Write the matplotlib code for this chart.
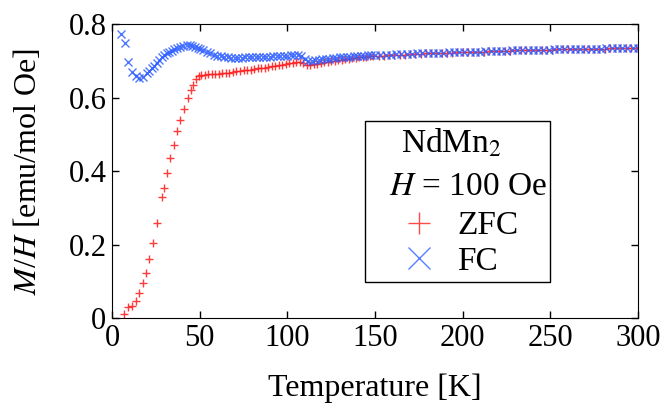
import numpy as np
import matplotlib
matplotlib.use('Agg')
import matplotlib.pyplot as plt
from matplotlib.patches import Rectangle

plt.rcParams['font.family'] = ['Liberation Serif', 'DejaVu Serif']
plt.rcParams['mathtext.fontset'] = 'stix'

# ZFC, low temperature part
zfc_t_low = [7.0, 9.3, 11.2, 13.5, 15.4, 17.5, 19.2, 21.3, 23.6, 25.9, 28.5, 29.8,
             31.6, 33.3, 35.4, 37.3, 39.0, 41.2, 43.5, 45.0, 46.3, 47.7, 49.4]
zfc_m_low = [0.010, 0.031, 0.033, 0.047, 0.067, 0.096, 0.122, 0.161, 0.205, 0.259, 0.330, 0.354,
             0.394, 0.435, 0.470, 0.508, 0.539, 0.568, 0.600, 0.620, 0.635, 0.650, 0.658]
# ZFC, 51..149 K (step 2) and 152..299 K (step 3)
zfc_t_mid = np.arange(51, 150, 2)
zfc_m_mid = [0.661, 0.662, 0.663, 0.663, 0.664, 0.665, 0.666, 0.667, 0.668, 0.670,
             0.671, 0.672, 0.674, 0.675, 0.676, 0.677, 0.679, 0.680, 0.681, 0.683,
             0.685, 0.686, 0.688, 0.689, 0.691, 0.693, 0.694, 0.696, 0.697, 0.694,
             0.689, 0.689, 0.691, 0.692, 0.694, 0.696, 0.697, 0.699, 0.700, 0.702,
             0.703, 0.704, 0.706, 0.707, 0.708, 0.709, 0.710, 0.711, 0.712, 0.713]
zfc_t_high = np.arange(152, 300, 3)
zfc_m_high = [0.714, 0.714, 0.715, 0.716, 0.716, 0.717, 0.718, 0.718, 0.719, 0.720,
              0.720, 0.721, 0.721, 0.722, 0.722, 0.723, 0.723, 0.724, 0.724, 0.725,
              0.725, 0.726, 0.726, 0.727, 0.727, 0.727, 0.728, 0.728, 0.729, 0.729,
              0.729, 0.730, 0.730, 0.730, 0.731, 0.731, 0.731, 0.732, 0.732, 0.732,
              0.733, 0.733, 0.733, 0.733, 0.734, 0.734, 0.734, 0.734, 0.735, 0.735]

# FC
fc_t_low = [5.0, 7.4, 9.3, 11.6, 13.7, 15.6, 17.5, 19.8, 21.2, 22.6, 24.0, 25.5, 27.0, 28.3,
            29.8, 31.2, 32.6, 34.0, 35.5, 36.9, 38.8, 40.7, 42.6, 44.5, 45.9, 47.3, 48.8, 50.2]
fc_m_low = [0.773, 0.749, 0.697, 0.669, 0.658, 0.652, 0.656, 0.666, 0.673, 0.680, 0.687, 0.693, 0.701, 0.709,
            0.715, 0.720, 0.724, 0.727, 0.731, 0.734, 0.737, 0.740, 0.742, 0.743, 0.741, 0.738, 0.735, 0.731]
fc_t_mid = np.arange(52, 151, 2)
fc_m_mid = [0.728, 0.724, 0.720, 0.717, 0.714, 0.712, 0.710, 0.709, 0.708, 0.708,
            0.708, 0.708, 0.709, 0.709, 0.709, 0.710, 0.710, 0.710, 0.711, 0.711,
            0.712, 0.712, 0.713, 0.713, 0.714, 0.715, 0.715, 0.715, 0.713, 0.705,
            0.700, 0.700, 0.702, 0.703, 0.704, 0.705, 0.706, 0.707, 0.708, 0.709,
            0.710, 0.711, 0.711, 0.712, 0.713, 0.714, 0.714, 0.715, 0.715, 0.716]
fc_t_high = np.arange(153, 301, 3)
fc_m_high = [0.716, 0.717, 0.717, 0.718, 0.718, 0.719, 0.719, 0.720, 0.720, 0.721,
             0.721, 0.722, 0.722, 0.723, 0.723, 0.724, 0.724, 0.724, 0.725, 0.725,
             0.726, 0.726, 0.727, 0.727, 0.727, 0.728, 0.728, 0.729, 0.729, 0.729,
             0.730, 0.730, 0.730, 0.731, 0.731, 0.731, 0.732, 0.732, 0.732, 0.733,
             0.733, 0.733, 0.733, 0.734, 0.734, 0.734, 0.734, 0.735, 0.735, 0.735]

zfc_t = np.concatenate([zfc_t_low, zfc_t_mid, zfc_t_high])
zfc_m = np.concatenate([zfc_m_low, zfc_m_mid, zfc_m_high])
fc_t = np.concatenate([fc_t_low, fc_t_mid, fc_t_high])
fc_m = np.concatenate([fc_m_low, fc_m_mid, fc_m_high])

fig = plt.figure(figsize=(6.64, 4.03), dpi=100)
ax = fig.add_axes([0.1687, 0.2109, 0.7921, 0.7295])

ax.plot(zfc_t, zfc_m, linestyle='none', marker='+', ms=6, mew=1.0,
        color='#ff1a1a', alpha=0.85, label='ZFC')
ax.plot(fc_t, fc_m, linestyle='none', marker='x', ms=6, mew=1.0,
        color='#2f5fff', alpha=0.85, label='FC')

ax.set_xlim(0, 300)
ax.set_ylim(0, 0.8)
ax.set_xticks([0, 50, 100, 150, 200, 250, 300])
ax.set_yticks([0, 0.2, 0.4, 0.6, 0.8])
ax.set_yticklabels(['0', '0.2', '0.4', '0.6', '0.8'])
ax.tick_params(direction='in', length=5, width=1, top=True, right=True,
               labelsize=22, pad=4)
ax.set_xlabel('Temperature [K]', fontsize=23, labelpad=15)
ax.set_ylabel('$M$/$H$ [emu/mol Oe]', fontsize=23, labelpad=18)

# legend box, as in the original (gnuplot style key)
ax.add_patch(Rectangle((0.481, 0.122), 0.352, 0.548, transform=ax.transAxes,
                       fill=False, edgecolor='black', lw=1.0, zorder=5))
ax.text(0.646, 0.595, 'NdMn$_2$', transform=ax.transAxes, fontsize=24,
        ha='center', va='center')
ax.text(0.676, 0.446, '$H$ = 100 Oe', transform=ax.transAxes, fontsize=24,
        ha='center', va='center')

leg = ax.legend(fontsize=24, loc='center left', bbox_to_anchor=(0.546, 0.252),
                markerscale=2.6, frameon=False, borderpad=0, borderaxespad=0,
                handlelength=1.2, handletextpad=0.55, labelspacing=0.15)
for lh in leg.legend_handles:
    lh.set_alpha(0.8)

fig.savefig('out.png', dpi=100)
